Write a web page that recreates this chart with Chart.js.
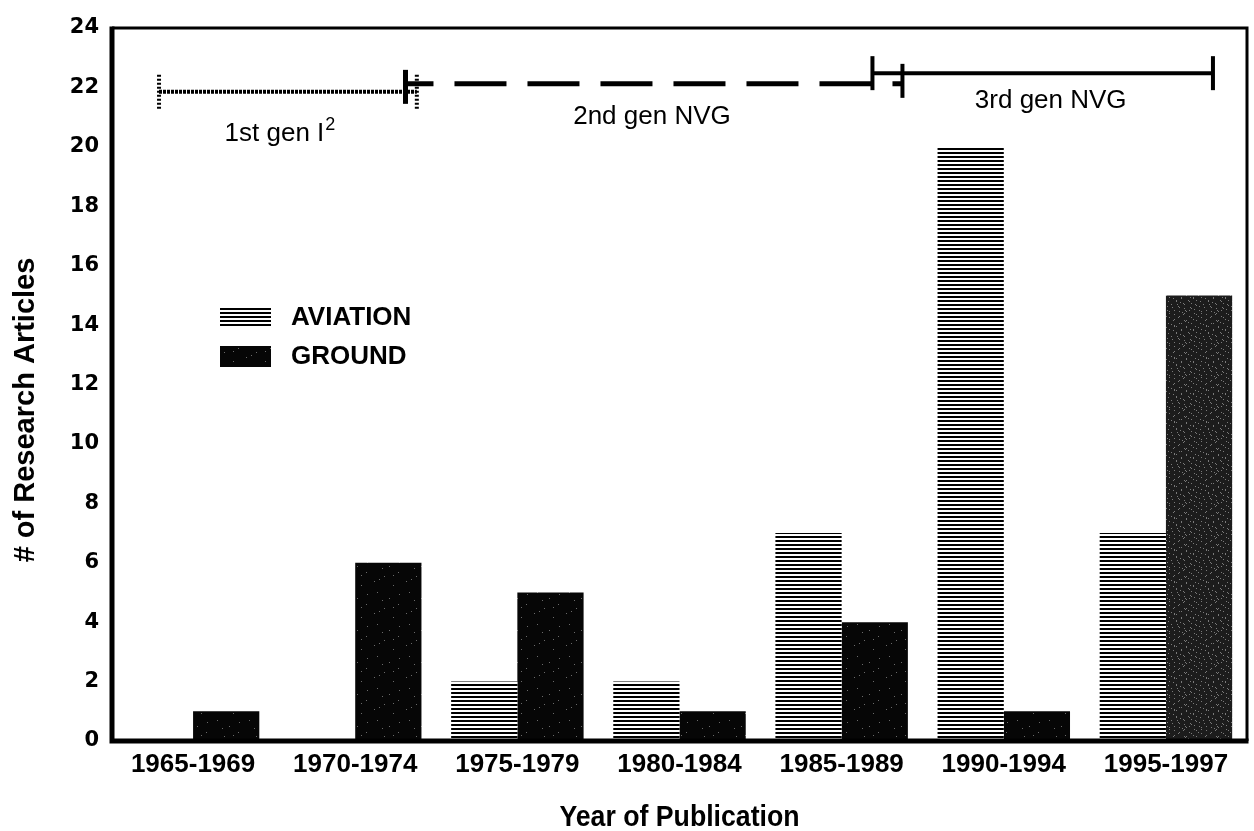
<!DOCTYPE html>
<html>
<head>
<meta charset="utf-8">
<script src="https://cdn.jsdelivr.net/npm/chart.js@4.4.0/dist/chart.umd.min.js"></script>
<style>
  html, body { margin: 0; padding: 0; background: #fff; }
  #wrap { width: 1254px; height: 831px; position: relative; }
</style>
</head>
<body>
<div id="wrap"><canvas id="chart"></canvas></div>
<script>
// DATA
const periods = ['1965-1969', '1970-1974', '1975-1979', '1980-1984', '1985-1989', '1990-1994', '1995-1997'];
const aviation = [0, 0, 2, 2, 7, 20, 7];
const ground = [1, 6, 5, 1, 4, 1, 15];
const yTicks = [0, 2, 4, 6, 8, 10, 12, 14, 16, 18, 20, 22, 24];

// NVG generations: span in category units, level in article units
const genNames = ['1st gen I', '2nd gen NVG', '3rd gen NVG'];
const genStart = [-0.21, 1.31, 4.19];
const genEnd = [1.38, 4.375, 6.29];
const genLevel = [21.85, 22.12, 22.48];

// PATTERNS
function stripePattern() {
    const c = document.createElement('canvas');
    c.width = 8; c.height = 4;
    const g = c.getContext('2d');
    g.fillStyle = '#fff';
    g.fillRect(0, 0, 8, 4);
    g.fillStyle = '#000';
    g.fillRect(0, 0, 8, 2);
    return g.createPattern(c, 'repeat');
}

function speckPattern(base, dot, count) {
    const c = document.createElement('canvas');
    c.width = 32; c.height = 32;
    const g = c.getContext('2d');
    g.fillStyle = base;
    g.fillRect(0, 0, 32, 32);
    g.fillStyle = dot;
    for (let i = 0; i < count; i++) {
        const px = (i * 13 + (i * i) % 7) % 32;
        const py = (i * 23 + (i * 5) % 11) % 32;
        g.fillRect(px, py, 1, 1);
    }
    return g.createPattern(c, 'repeat');
}

const aviationFill = stripePattern();
const groundDark = speckPattern('#060606', '#6a6a6a', 10);
const groundGray = speckPattern('#1c1c1c', '#7a7a7a', 70);
const groundFills = ground.map((v, i) => i === ground.length - 1 ? groundGray : groundDark);

// frame, NVG spans, legend, axis titles
const decorations = {
    id: 'decorations',
    afterDatasetsDraw(chart) {
        const { ctx, chartArea: a, scales: { x, y } } = chart;
        ctx.save();
        ctx.strokeStyle = '#000';
        ctx.fillStyle = '#000';

        // frame
        ctx.lineWidth = 3;
        ctx.beginPath();
        ctx.moveTo(a.left, a.top); ctx.lineTo(a.right, a.top); ctx.lineTo(a.right, a.bottom);
        ctx.stroke();
        ctx.lineWidth = 5;
        ctx.beginPath();
        ctx.moveTo(a.left, a.top - 1.5); ctx.lineTo(a.left, a.bottom); ctx.lineTo(a.right + 1.5, a.bottom);
        ctx.stroke();

        const capH = 17;
        const px = genStart.map(v => x.getPixelForValue(v));
        const pe = genEnd.map(v => x.getPixelForValue(v));
        const py = genLevel.map(v => y.getPixelForValue(v));

        function cap(cx, cy, w, dash) {
            ctx.lineWidth = w;
            ctx.setLineDash(dash);
            ctx.beginPath();
            ctx.moveTo(cx, cy - capH); ctx.lineTo(cx, cy + capH);
            ctx.stroke();
        }

        // 1st gen: dotted
        ctx.lineWidth = 4;
        ctx.setLineDash([3, 1]);
        ctx.beginPath();
        ctx.moveTo(px[0], py[0]); ctx.lineTo(pe[0], py[0]);
        ctx.stroke();
        cap(px[0], py[0], 4, [2, 2]);
        cap(pe[0], py[0], 4, [2, 2]);

        // 2nd gen: dashed
        ctx.lineWidth = 5;
        ctx.setLineDash([52, 21]);
        ctx.lineDashOffset = 24;
        ctx.beginPath();
        ctx.moveTo(px[1], py[1]); ctx.lineTo(pe[1], py[1]);
        ctx.stroke();
        ctx.lineDashOffset = 0;
        cap(px[1], py[1] + 3, 5, []);
        cap(pe[1], py[1] - 3, 4, []);

        // 3rd gen: solid
        ctx.lineWidth = 4;
        ctx.setLineDash([]);
        ctx.beginPath();
        ctx.moveTo(px[2], py[2]); ctx.lineTo(pe[2], py[2]);
        ctx.stroke();
        cap(px[2], py[2], 4, []);
        cap(pe[2], py[2], 4, []);

        // span labels
        const labelDx = [-8, -2, 8];
        const labelDy = [42, 33, 28];
        const big = '26px "Liberation Sans", Arial, sans-serif';
        const small = '18px "Liberation Sans", Arial, sans-serif';
        ctx.font = big;
        ctx.textBaseline = 'middle';
        genNames.forEach((name, i) => {
            const mid = (px[i] + pe[i]) / 2 + labelDx[i];
            const ly = py[i] + labelDy[i];
            if (i === 0) {
                ctx.font = big;
                const w1 = ctx.measureText(name).width;
                ctx.font = small;
                const w2 = ctx.measureText('2').width;
                const left = mid - (w1 + w2 + 1) / 2;
                ctx.textAlign = 'left';
                ctx.font = big;
                ctx.fillText(name, left, ly);
                ctx.font = small;
                ctx.fillText('2', left + w1 + 1, ly - 9);
                ctx.font = big;
            } else {
                ctx.textAlign = 'center';
                ctx.fillText(name, mid, ly);
            }
        });

        // legend
        const sets = chart.data.datasets;
        const legY = [317, 356];
        ctx.font = 'bold 26px "Liberation Sans", Arial, sans-serif';
        ctx.textAlign = 'left';
        sets.forEach((ds, i) => {
            const fill = Array.isArray(ds.backgroundColor) ? ds.backgroundColor[0] : ds.backgroundColor;
            ctx.fillStyle = fill;
            ctx.fillRect(220, legY[i] - 10, 51, 21);
            ctx.fillStyle = '#000';
            ctx.fillText(ds.label, 291, legY[i] + 1);
        });

        // axis titles
        ctx.font = 'bold 29px "Liberation Sans", Arial, sans-serif';
        ctx.textAlign = 'center';
        ctx.save();
        ctx.translate(26, 410);
        ctx.rotate(-Math.PI / 2);
        ctx.fillText('# of Research Articles', 0, 0);
        ctx.restore();

        ctx.save();
        ctx.translate((a.left + a.right) / 2, 818);
        ctx.scale(0.92, 1);
        ctx.fillText('Year of Publication', 0, 0);
        ctx.restore();

        ctx.restore();
    }
};

const ctx = document.getElementById('chart').getContext('2d');
const chart = new Chart(ctx, {
    type: 'bar',
    data: {
        labels: periods,
        datasets: [{
            label: 'AVIATION',
            data: aviation,
            backgroundColor: aviationFill,
            borderWidth: 0
        }, {
            label: 'GROUND',
            data: ground,
            backgroundColor: groundFills,
            borderWidth: 0
        }]
    },
    options: {
        responsive: true,
        maintainAspectRatio: false,
        animation: false,
        events: [],
        layout: { padding: { top: 28, left: 0, right: 7, bottom: 0 } },
        datasets: { bar: { categoryPercentage: 0.817, barPercentage: 1.0 } },
        plugins: {
            legend: { display: false },
            tooltip: { enabled: false }
        },
        scales: {
            x: {
                grid: { display: false, drawTicks: false },
                border: { display: false },
                ticks: {
                    color: '#000',
                    padding: 8,
                    maxRotation: 0,
                    autoSkip: false,
                    font: { family: '"Liberation Sans", Arial, sans-serif', size: 26, weight: 'bold' }
                },
                afterFit: s => { s.height = 90; }
            },
            y: {
                min: 0,
                max: 24,
                grid: { display: false, drawTicks: false },
                border: { display: false },
                afterBuildTicks: s => { s.ticks = yTicks.map(v => ({ value: v })); },
                ticks: {
                    color: '#000',
                    padding: 13,
                    font: { family: '"DejaVu Sans", sans-serif', size: 21, weight: 'bold' }
                },
                afterFit: s => { s.width = 112; }
            }
        }
    },
    plugins: [decorations]
});
</script>
</body>
</html>
